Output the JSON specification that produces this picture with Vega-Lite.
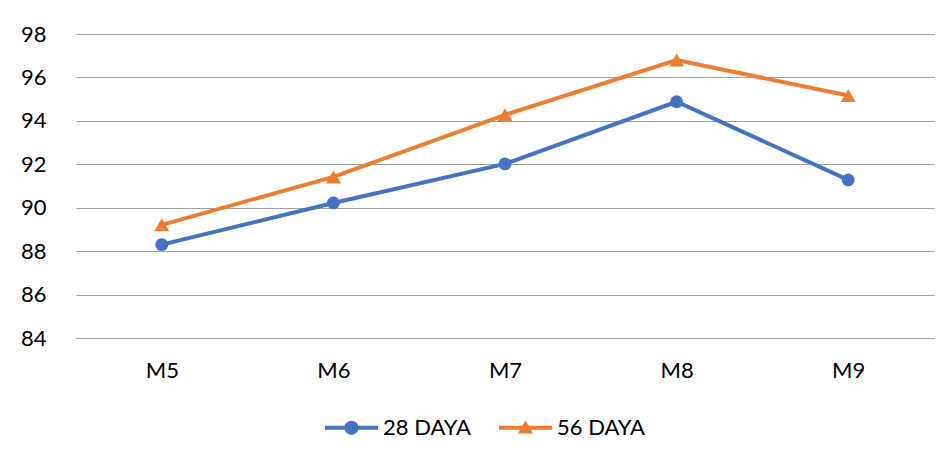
{
  "$schema": "https://vega.github.io/schema/vega-lite/v6.json",
  "width": 858,
  "height": 304,
  "autosize": {"type": "none"},
  "padding": {"left": 76, "top": 34, "right": 18, "bottom": 127},
  "background": "white",
  "config": {
    "font": "Lato",
    "view": {"stroke": null},
    "axis": {"labelFont": "Lato", "labelFontSize": 22, "labelColor": "#000000"},
    "legend": {"layout": {"bottom": {"anchor": "middle"}}}
  },
  "data": {
    "values": [
      {"mix": "M5", "series": "28 DAYA", "value": 88.3},
      {"mix": "M6", "series": "28 DAYA", "value": 90.22},
      {"mix": "M7", "series": "28 DAYA", "value": 92.02},
      {"mix": "M8", "series": "28 DAYA", "value": 94.88},
      {"mix": "M9", "series": "28 DAYA", "value": 91.28},
      {"mix": "M5", "series": "56 DAYA", "value": 89.21},
      {"mix": "M6", "series": "56 DAYA", "value": 91.42},
      {"mix": "M7", "series": "56 DAYA", "value": 94.28},
      {"mix": "M8", "series": "56 DAYA", "value": 96.8},
      {"mix": "M9", "series": "56 DAYA", "value": 95.17}
    ]
  },
  "encoding": {
    "x": {
      "field": "mix",
      "type": "ordinal",
      "scale": {"type": "point", "padding": 0.5},
      "axis": {
        "title": null,
        "labelAngle": 0,
        "ticks": false,
        "domain": true,
        "domainColor": "#A0A0A0",
        "domainWidth": 1.2,
        "labelPadding": 22,
        "grid": false
      }
    },
    "y": {
      "field": "value",
      "type": "quantitative",
      "scale": {"domain": [84, 98], "nice": false, "zero": false},
      "axis": {
        "title": null,
        "values": [84, 86, 88, 90, 92, 94, 96, 98],
        "ticks": false,
        "domain": false,
        "grid": true,
        "gridColor": "#A0A0A0",
        "gridWidth": 1.2,
        "labelPadding": 30
      }
    },
    "color": {
      "field": "series",
      "type": "nominal",
      "scale": {"domain": ["28 DAYA", "56 DAYA"], "range": ["#4472C4", "#ED7D31"]},
      "legend": {
        "title": null,
        "orient": "bottom",
        "direction": "horizontal",
        "offset": 20,
        "labelFontSize": 22,
        "labelFont": "Lato",
        "labelColor": "#000000",
        "labelOffset": 5,
        "columnPadding": 28,
        "symbolSize": 2809,
        "symbolOffset": -40,
        "encode": {
          "symbols": {
            "update": {
              "shape": {
                "signal": "datum.value === '28 DAYA' ? 'M-1,-0.075H-0.25V0.075H-1Z M0.25,-0.075H1V0.075H0.25Z M0.265,0A0.265,0.265 0 1,1 -0.265,0A0.265,0.265 0 1,1 0.265,0Z' : 'M-1,-0.075H1V0.075H-1Z M0,-0.27L0.285,0.22L-0.285,0.22Z'"
              },
              "fill": {"scale": "color", "field": "value"},
              "stroke": {"value": "transparent"},
              "strokeWidth": {"value": 0},
              "opacity": {"value": 1}
            }
          }
        }
      }
    }
  },
  "layer": [
    {
      "mark": {"type": "line", "strokeWidth": 4}
    },
    {
      "transform": [{"filter": "datum.series === '28 DAYA'"}],
      "mark": {"type": "point", "shape": "circle", "filled": true, "size": 165, "opacity": 1}
    },
    {
      "transform": [{"filter": "datum.series === '56 DAYA'"}],
      "mark": {"type": "point", "shape": "triangle-up", "filled": true, "size": 225, "opacity": 1}
    }
  ]
}
